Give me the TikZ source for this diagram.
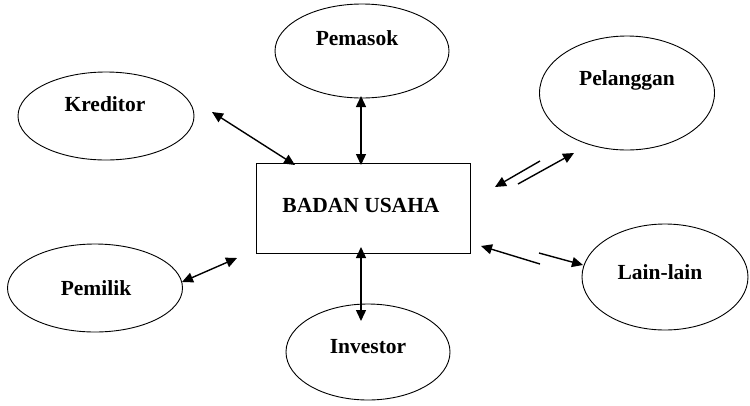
\documentclass[tikz,border=0pt]{standalone}
\usepackage{fontspec}
\setmainfont{Liberation Serif}
\usetikzlibrary{arrows.meta,shapes.geometric}
\begin{document}
\begin{tikzpicture}[x=1pt,y=-1pt,
  party/.style={draw,ellipse,line width=0.9pt,inner sep=0pt},
  lbl/.style={font=\fontsize{21.5}{24}\selectfont\bfseries,inner sep=0pt},
  link/.style={line width=1.4pt,{Triangle[length=11pt,width=10pt]}-{Triangle[length=11pt,width=10pt]}},
  oneway/.style={line width=1.4pt,-{Triangle[length=11pt,width=10pt]}}]
\useasboundingbox (0,0) rectangle (750,405);

% central box
\node[draw,line width=0.9pt,minimum width=214pt,minimum height=90pt,inner sep=0pt] (badan) at (363,208) {};
\node[lbl] (badanlbl) at (361,205) {BADAN USAHA};

% surrounding parties
\node[party,minimum width=174pt,minimum height=94pt] (pemasok) at (362,51) {};
\node[lbl] at (357,38) {Pemasok};
\node[party,minimum width=176pt,minimum height=88pt] (kreditor) at (106,116) {};
\node[lbl] at (105,104) {Kreditor};
\node[party,minimum width=175pt,minimum height=114pt] (pelanggan) at (627,93) {};
\node[lbl] at (627,80) {Pelanggan};
\node[party,minimum width=175pt,minimum height=88pt] (pemilik) at (95,288) {};
\node[lbl] at (96,288) {Pemilik};
\node[party,minimum width=164pt,minimum height=96pt] (investor) at (368,352) {};
\node[lbl] at (368,347) {Investor};
\node[party,minimum width=166pt,minimum height=106pt] (lain) at (665,277) {};
\node[lbl] at (660,272) {Lain-lain};

% connector end points
\coordinate (kr1) at (212,112);
\coordinate (kr2) at (295,165);
\coordinate (pm1) at (361,96);
\coordinate (pm2) at (361,165);
\coordinate (iv1) at (361,247);
\coordinate (iv2) at (361,321);
\coordinate (pl1) at (182,282);
\coordinate (pl2) at (237,258);
\coordinate (pa1) at (540,161);
\coordinate (pa2) at (495,187);
\coordinate (pb1) at (518,184);
\coordinate (pb2) at (574,153);
\coordinate (la1) at (540,264);
\coordinate (la2) at (481,246);
\coordinate (lb1) at (539,253);
\coordinate (lb2) at (583,265);

\draw[link] (kr1) -- (kr2);
\draw[link] (pm1) -- (pm2);
\draw[link] (iv1) -- (iv2);
\draw[link] (pl1) -- (pl2);
\draw[oneway] (pa1) -- (pa2);
\draw[oneway] (pb1) -- (pb2);
\draw[oneway] (la1) -- (la2);
\draw[oneway] (lb1) -- (lb2);
\end{tikzpicture}
\end{document}
